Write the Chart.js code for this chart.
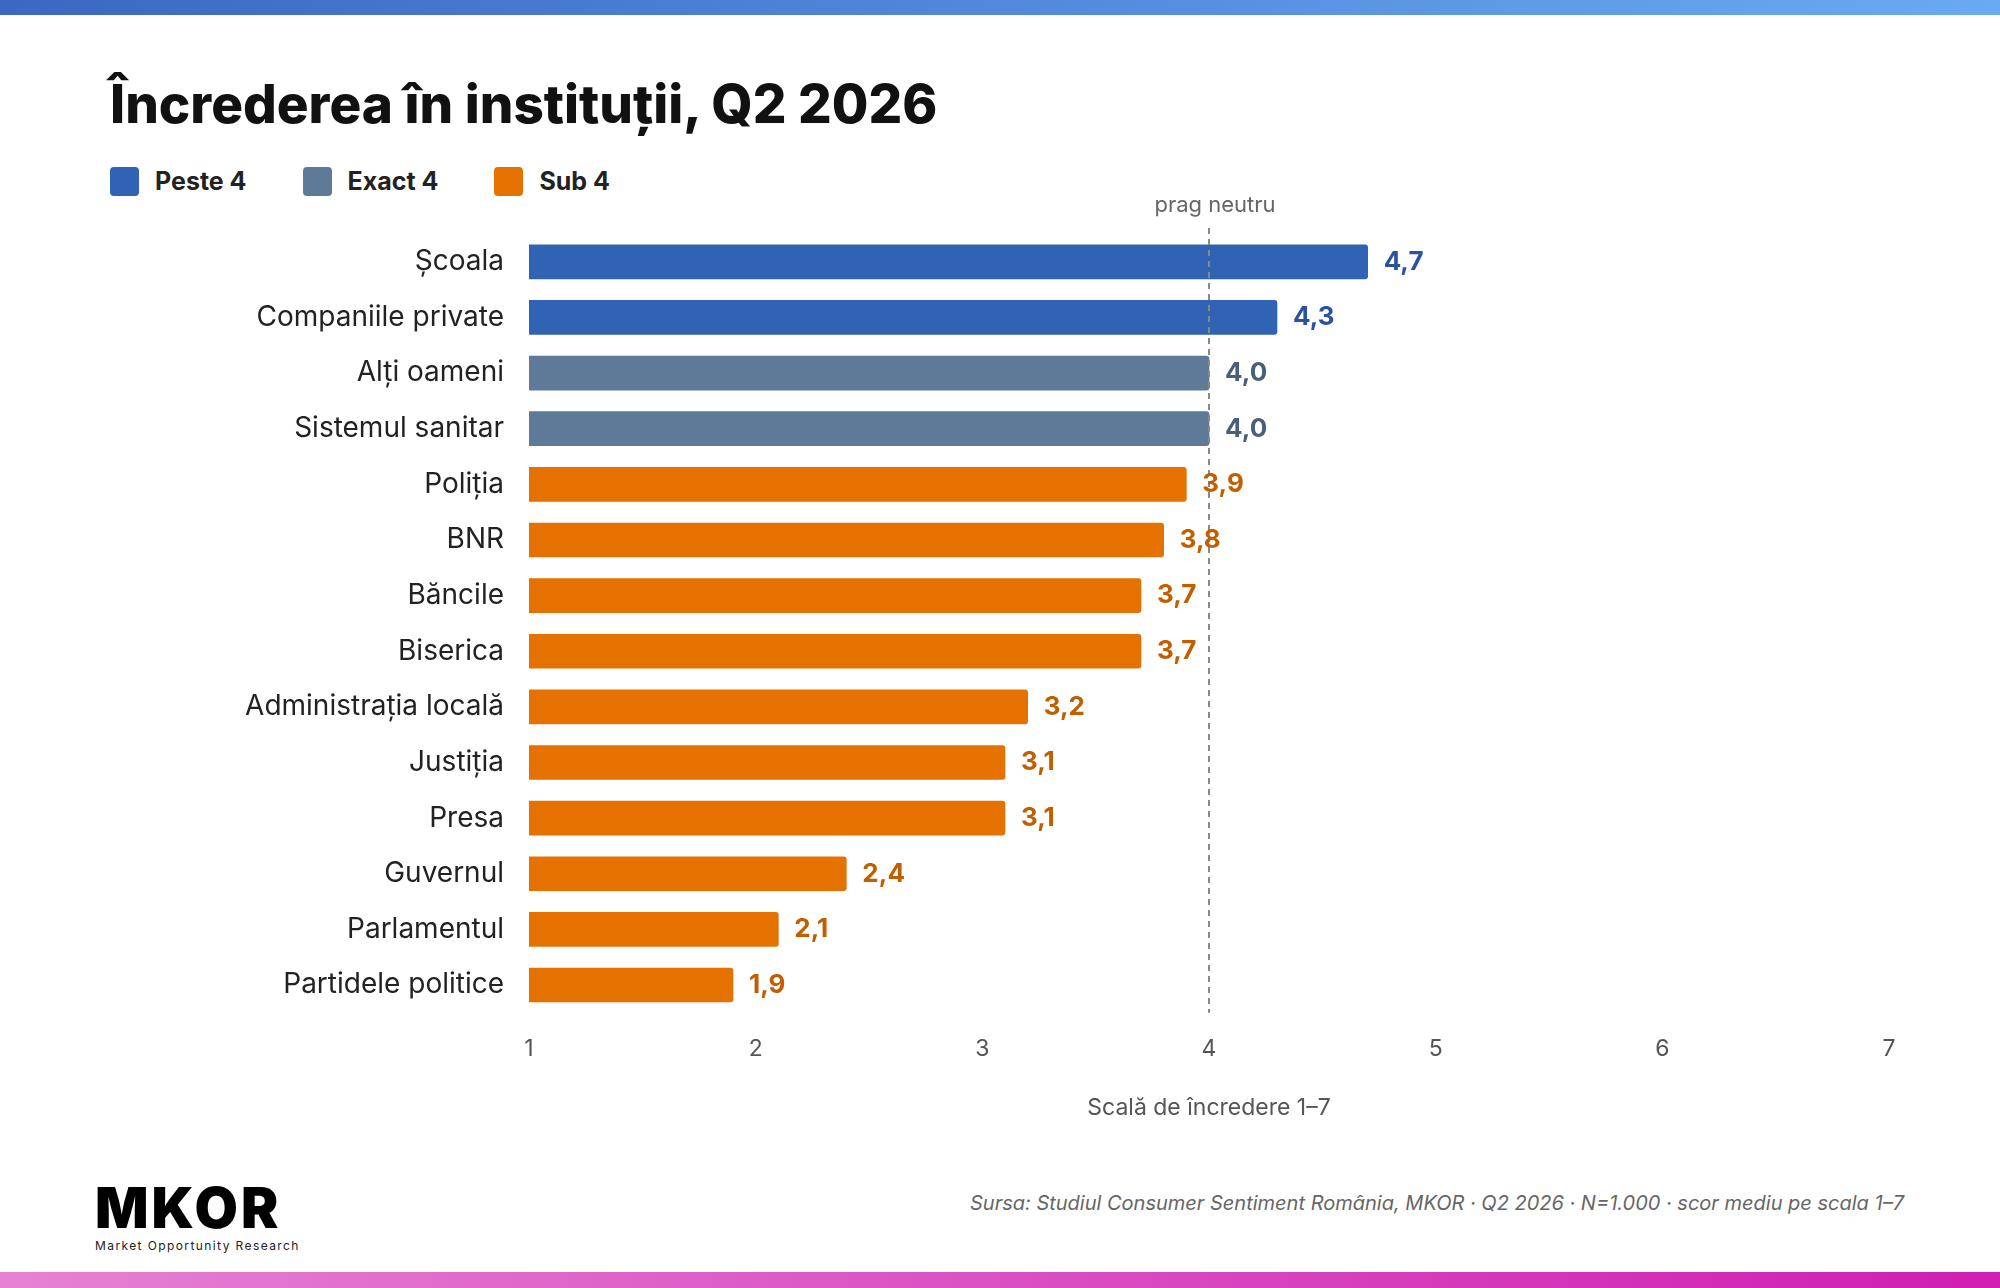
<!DOCTYPE html>
<html>
<head>
<meta charset="utf-8">
<script src="https://cdn.jsdelivr.net/npm/chart.js@4"></script>
<style>
  body { margin: 0; width: 2000px; height: 1288px; background: #fff; font-family: Inter, "Noto Sans", sans-serif; position: relative; overflow: hidden; }
  .topbar { position: absolute; left: 0; top: 0; width: 2000px; height: 15px; background: linear-gradient(90deg, #3a68c2, #6aaaf2); }
  .botbar { position: absolute; left: 0; bottom: 0; width: 2000px; height: 16px; background: linear-gradient(90deg, #e682d4, #cf1eb2); }
  h1 { position: absolute; left: 110px; top: 72px; margin: 0; font-size: 53px; font-weight: 800; color: #111; letter-spacing: 0px; }
  .legend { position: absolute; left: 110px; top: 166px; display: flex; gap: 56px; font-size: 25px; font-weight: 700; color: #222; }
  .legend span { display: flex; align-items: center; }
  .legend i { display: inline-block; width: 29px; height: 29px; border-radius: 4px; margin-right: 16px; }
  .source { position: absolute; right: 96px; top: 1191px; font-size: 20px; font-style: italic; color: #666; }
  .logo { position: absolute; left: 95px; top: 1180px; }
  .logo b { display: block; font-size: 56px; font-weight: 900; letter-spacing: 3px; line-height: 1; color: #000; }
  .logo small { display: block; font-size: 12px; letter-spacing: 1.4px; color: #222; margin-top: 2px; }
  #wrap { position: absolute; left: 0; top: 190px; width: 2000px; height: 946px; }
</style>
</head>
<body>
<div class="topbar"></div>
<h1>Încrederea în instituții, Q2 2026</h1>
<div class="legend">
  <span><i style="background:#3163b5"></i>Peste 4</span>
  <span><i style="background:#5f7a99"></i>Exact 4</span>
  <span><i style="background:#e57200"></i>Sub 4</span>
</div>
<div id="wrap"><canvas id="chart"></canvas></div>
<div class="logo"><b>MKOR</b><small>Market Opportunity Research</small></div>
<div class="source">Sursa: Studiul Consumer Sentiment România, MKOR · Q2 2026 · N=1.000 · scor mediu pe scala 1–7</div>
<div class="botbar"></div>
<script>
const institutions = ["Școala", "Companiile private", "Alți oameni", "Sistemul sanitar", "Poliția", "BNR", "Băncile", "Biserica", "Administrația locală", "Justiția", "Presa", "Guvernul", "Parlamentul", "Partidele politice"];
const scores = [4.7, 4.3, 4.0, 4.0, 3.9, 3.8, 3.7, 3.7, 3.2, 3.1, 3.1, 2.4, 2.1, 1.9];
const xTicks = [1, 2, 3, 4, 5, 6, 7];
const neutral = 4;

function barColor(v) { return v > neutral ? "#3163b5" : (v === neutral ? "#5f7a99" : "#e57200"); }
function labelColor(v) { return v > neutral ? "#2a52a0" : (v === neutral ? "#4a5f7a" : "#c05e00"); }

// values at bar ends + neutral line
const extras = {
  id: "extras",
  afterDatasetsDraw(chart) {
    const ctx = chart.ctx;
    const x = chart.scales.x;
    const area = chart.chartArea;
    const px = x.getPixelForValue(neutral);
    ctx.save();
    ctx.strokeStyle = "#888";
    ctx.lineWidth = 2;
    ctx.setLineDash([6, 5]);
    ctx.beginPath();
    ctx.moveTo(px, area.top - 6);
    ctx.lineTo(px, area.bottom);
    ctx.stroke();
    ctx.setLineDash([]);
    ctx.fillStyle = "#666";
    ctx.font = "22px Inter, 'Noto Sans', sans-serif";
    ctx.textAlign = "center";
    ctx.fillText("prag neutru", px + 6, area.top - 22);
    const meta = chart.getDatasetMeta(0);
    ctx.font = "bold 26px Inter, 'Noto Sans', sans-serif";
    ctx.textAlign = "left";
    ctx.textBaseline = "middle";
    meta.data.forEach((bar, i) => {
      ctx.fillStyle = labelColor(scores[i]);
      ctx.fillText(scores[i].toFixed(1).replace(".", ","), bar.x + 16, bar.y);
    });
    ctx.restore();
  }
};

new Chart(document.getElementById("chart"), {
  type: "bar",
  data: {
    labels: institutions,
    datasets: [{
      data: scores,
      backgroundColor: scores.map(barColor),
      barThickness: 34,
      borderRadius: 3,
      borderSkipped: "start"
    }]
  },
  options: {
    indexAxis: "y",
    responsive: true,
    maintainAspectRatio: false,
    animation: false,
    layout: { padding: { top: 44, right: 111, bottom: 10, left: 0 } },
    plugins: { legend: { display: false }, tooltip: { enabled: false } },
    scales: {
      x: {
        min: 1, max: 7,
        afterBuildTicks(axis) { axis.ticks = xTicks.map(v => ({ value: v })); },
        grid: { display: false },
        border: { display: false },
        ticks: { color: "#555", font: { size: 23, family: "Inter, 'Noto Sans', sans-serif" }, padding: 14 },
        title: { display: true, text: "Scală de încredere 1–7", color: "#555", font: { size: 23, family: "Inter, 'Noto Sans', sans-serif" }, padding: { top: 18 } }
      },
      y: {
        afterFit(axis) { axis.width = 529; },
        grid: { display: false },
        border: { display: false },
        ticks: { color: "#222", font: { size: 28, family: "Inter, 'Noto Sans', sans-serif" }, padding: 17 }
      }
    }
  },
  plugins: [extras]
});
</script>
</body>
</html>
